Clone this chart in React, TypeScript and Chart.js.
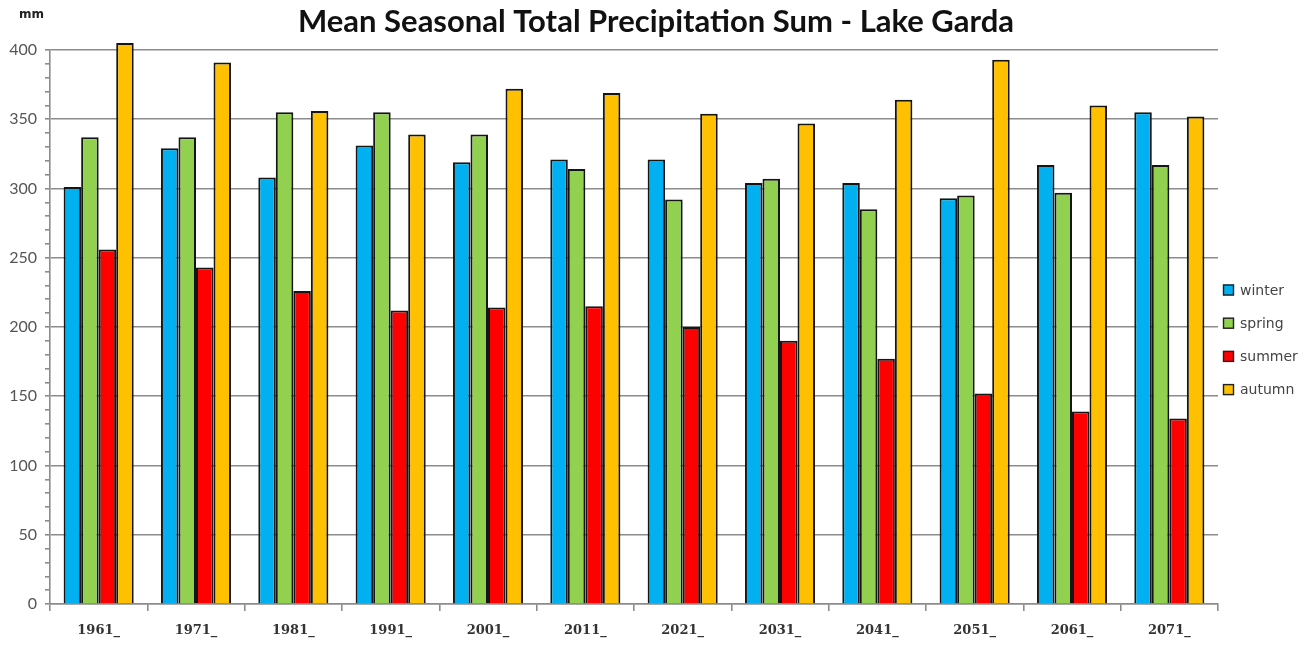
import React, { useEffect, useRef } from 'react';
import { Chart, registerables } from 'chart.js';

Chart.register(...registerables);

const categories = ['1961_', '1971_', '1981_', '1991_', '2001_', '2011_', '2021_', '2031_', '2041_', '2051_', '2061_', '2071_'];
const winter = [301, 329, 308, 331, 319, 321, 321, 304, 304, 293, 317, 355];
const spring = [337, 337, 355, 355, 339, 314, 292, 307, 285, 295, 297, 317];
const summer = [256, 243, 226, 212, 214, 215, 200, 190, 177, 152, 139, 134];
const autumn = [405, 391, 356, 339, 372, 369, 354, 347, 364, 393, 360, 352];
const seriesNames = ['winter', 'spring', 'summer', 'autumn'];
const seriesColors = ['#00B0F0', '#92D050', '#FF0000', '#FFC000'];
const yMin = 0;
const yMax = 400;
const yMajorStep = 50;
const yMinorStep = 10;
const chartTitle = 'Mean Seasonal Total Precipitation Sum - Lake Garda';
const yUnit = 'mm';

const FONT = 'Lato, "Open Sans", sans-serif';
const GRID = '#8c8c8c';

const overlayPlugin = {
  id: 'overlay',
  afterDraw(chart: any) {
    const ctx = chart.ctx as CanvasRenderingContext2D;
    const area = chart.chartArea;
    ctx.save();
    // title
    ctx.fillStyle = '#111111';
    ctx.font = `bold 31px ${FONT}`;
    ctx.textAlign = 'center';
    ctx.textBaseline = 'alphabetic';
    ctx.fillText(chartTitle, chart.width / 2 - 1, 32);
    // unit
    ctx.font = `bold 12px "DejaVu Sans", sans-serif`;
    ctx.textAlign = 'left';
    ctx.fillStyle = '#222222';
    ctx.fillText(yUnit, 19, 18);
    // legend
    const x0 = area.right + 5;
    chart.data.datasets.forEach((ds: any, i: number) => {
      const cy = 290 + i * 33.2;
      ctx.fillStyle = ds.backgroundColor;
      ctx.fillRect(x0, cy - 5.5, 11, 11);
      ctx.strokeStyle = '#222222';
      ctx.lineWidth = 1.4;
      ctx.strokeRect(x0 + 0.5, cy - 5, 10, 10);
      ctx.fillStyle = '#444444';
      ctx.font = `14px "DejaVu Sans", sans-serif`;
      ctx.textAlign = 'left';
      ctx.textBaseline = 'middle';
      ctx.fillText(ds.label, x0 + 17, cy + 1);
    });
    ctx.restore();
  },
};

export default function App() {
  const canvasRef = useRef<HTMLCanvasElement | null>(null);

  useEffect(() => {
    if (!canvasRef.current) return;
    const seriesValues = [winter, spring, summer, autumn];
    const chart = new Chart(canvasRef.current, {
      type: 'bar',
      data: {
        labels: categories,
        datasets: seriesNames.map((name, i) => ({
          label: name,
          data: seriesValues[i],
          backgroundColor: seriesColors[i],
          borderColor: '#151515',
          borderWidth: 2,
          clip: false as any,
        })),
      },
      options: {
        animation: false,
        responsive: false,
        maintainAspectRatio: false,
        layout: { padding: { left: 0, top: 50, right: 96, bottom: 0 } },
        datasets: { bar: { categoryPercentage: 0.72, barPercentage: 1 } },
        plugins: {
          legend: { display: false },
          title: { display: false },
          tooltip: { enabled: false },
        },
        scales: {
          x: {
            grid: {
              drawOnChartArea: false,
              tickLength: 7,
              tickColor: GRID,
              lineWidth: 1.6,
              offset: true,
            },
            border: { color: GRID, width: 1.6 },
            ticks: { font: { family: '"DejaVu Serif", serif', size: 13, weight: 'bold' }, color: '#333333', padding: 12 },
            afterFit: (s: any) => {
              s.height = 42;
            },
          },
          y: {
            min: yMin,
            max: yMax,
            ticks: {
              stepSize: yMinorStep,
              autoSkip: false,
              callback: (v: any) => (Number(v) % yMajorStep === 0 ? String(v) : ''),
              font: { family: FONT, size: 16 },
              color: '#555555',
              padding: 8,
            },
            grid: {
              color: (c: any) => (c.tick && c.tick.value % yMajorStep === 0 ? GRID : 'rgba(0,0,0,0)'),
              tickColor: GRID,
              tickLength: 5,
              lineWidth: 1.6,
            },
            border: { color: GRID, width: 1.6 },
            afterFit: (s: any) => {
              s.width = 50;
            },
          },
        },
      },
      plugins: [overlayPlugin],
    });
    return () => chart.destroy();
  }, []);

  return (
    <div style={{ position: 'absolute', left: 0, top: 0, width: 1314, height: 646, background: '#ffffff' }}>
      <canvas ref={canvasRef} width={1314} height={646} style={{ width: 1314, height: 646 }} />
    </div>
  );
}
